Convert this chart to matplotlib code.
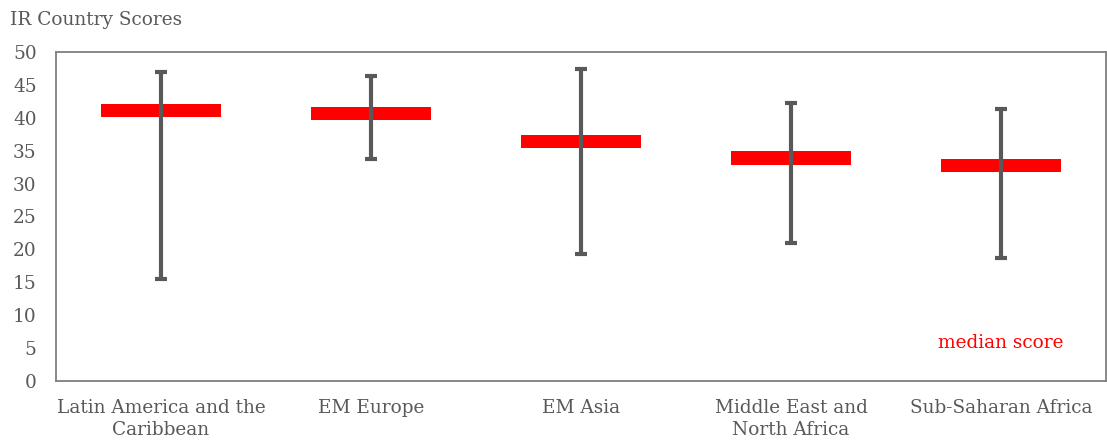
import matplotlib
matplotlib.use("Agg")
import matplotlib.pyplot as plt
import numpy as np

categories = ["Latin America and the\nCaribbean", "EM Europe", "EM Asia",
              "Middle East and\nNorth Africa", "Sub-Saharan Africa"]
median = [41.1, 40.6, 36.4, 33.9, 32.7]
high = [47.0, 46.4, 47.4, 42.3, 41.4]
low = [15.5, 33.7, 19.3, 21.0, 18.7]
yticks = [0, 5, 10, 15, 20, 25, 30, 35, 40, 45, 50]

plt.rcParams['font.family'] = ['DejaVu Serif']
gray = '#595959'

fig = plt.figure(figsize=(11.07, 4.43), dpi=100)
ax = fig.add_axes([56/1107, 1-381/443, 1050/1107, (381-52)/443])

x = np.arange(len(categories))
med = np.array(median)
ax.bar(x, 2.0, bottom=med - 1.0, width=0.575, color='#ff0000', zorder=2)
center = (np.array(high) + np.array(low)) / 2
half = (np.array(high) - np.array(low)) / 2
ax.errorbar(x, center, yerr=half, fmt='none', ecolor=gray, elinewidth=3,
            capsize=4.3, capthick=3, zorder=3)

ax.set_xlim(-0.5, len(categories) - 0.5)
ax.set_ylim(0, 50)
ax.set_yticks(yticks)
ax.set_xticks(x)
ax.set_xticklabels(categories, fontsize=13.3, color=gray, linespacing=1.3)
ax.tick_params(axis='y', labelsize=13.3, labelcolor=gray, length=0, pad=14)
ax.tick_params(axis='x', length=0, pad=13)
for s in ['left', 'bottom', 'top', 'right']:
    ax.spines[s].set_color('#7f7f7f')
    ax.spines[s].set_linewidth(1.3)

ax.text(4, 5.8, "median score", color='#ff0000', fontsize=13.3,
        ha='center', va='center')
fig.text(10/1107, 1-20/443, "IR Country Scores", color=gray, fontsize=13.3,
         ha='left', va='center')

fig.savefig("out.png", dpi=100)
